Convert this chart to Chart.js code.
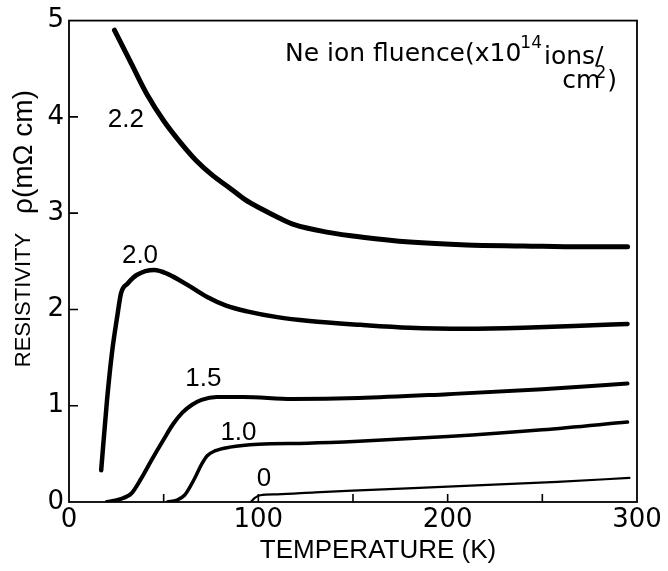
<!DOCTYPE html>
<html>
<head>
<meta charset="utf-8">
<script src="https://cdn.jsdelivr.net/npm/chart.js@4.4.1/dist/chart.umd.min.js"></script>
<style>
  html, body { margin: 0; padding: 0; background: #fff; }
  canvas { display: block; }
</style>
</head>
<body>
<canvas id="chart" width="668" height="571"></canvas>
<script>
// Resistivity vs temperature after Ne ion implantation, one curve per fluence
const fluenceLabels = ['2.2', '2.0', '1.5', '1.0', '0'];

const temp22 = [24, 33, 41, 50, 59, 67, 76, 85, 93, 102, 111, 119, 137, 155, 180, 210, 240, 270, 295];
const rho22  = [4.90, 4.55, 4.24, 3.96, 3.73, 3.55, 3.39, 3.26, 3.14, 3.04, 2.95, 2.88, 2.80, 2.75, 2.70, 2.67, 2.66, 2.65, 2.65];

const temp20 = [17, 20, 22.7, 25.5, 27.5, 31, 36, 45, 52, 63, 73, 83, 94, 110, 127, 154, 180, 210, 240, 270, 295];
const rho20  = [0.33, 1.04, 1.55, 1.93, 2.17, 2.27, 2.36, 2.41, 2.37, 2.25, 2.13, 2.04, 1.98, 1.92, 1.88, 1.84, 1.81, 1.80, 1.81, 1.83, 1.85];

const temp15 = [20, 27, 33, 38, 44, 50, 55, 60, 65, 70, 78, 92, 118, 153, 200, 250, 295];
const rho15  = [0, 0.03, 0.09, 0.24, 0.45, 0.65, 0.81, 0.93, 1.01, 1.06, 1.09, 1.09, 1.07, 1.08, 1.12, 1.17, 1.23];

const temp10 = [52, 57, 61, 64, 67, 70, 73, 77, 85, 100, 126, 153, 200, 250, 295];
const rho10  = [0, 0.02, 0.07, 0.16, 0.27, 0.39, 0.48, 0.53, 0.57, 0.60, 0.61, 0.63, 0.68, 0.75, 0.83];

const temp0 = [96, 98, 101, 110, 130, 153, 200, 258, 296];
const rho0  = [0, 0.04, 0.07, 0.08, 0.10, 0.12, 0.16, 0.21, 0.25];

// where each fluence number sits, in (K, mΩ cm)
const labelTemp = [30, 37.5, 71, 89.5, 103];
const labelRho  = [3.97, 2.56, 1.28, 0.72, 0.245];

const xMinorTicks = [50, 100, 150, 200, 250];
const yInnerTicks = [1, 2, 3, 4];

const FONT = "'Liberation Sans', Arial, sans-serif";
const WIDE = "'DejaVu Sans', sans-serif";

function points(t, r) { return t.map((v, i) => ({ x: v, y: r[i] })); }

const series = [
  { data: points(temp22, rho22), borderWidth: 5 },
  { data: points(temp20, rho20), borderWidth: 4.5 },
  { data: points(temp15, rho15), borderWidth: 4 },
  { data: points(temp10, rho10), borderWidth: 3.5 },
  { data: points(temp0, rho0), borderWidth: 2.2 }
].map((d, i) => Object.assign({
  label: fluenceLabels[i],
  borderColor: '#000',
  backgroundColor: '#000',
  pointRadius: 0,
  fill: false,
  cubicInterpolationMode: 'monotone',
  borderCapStyle: 'round',
  borderJoinStyle: 'round'
}, d));

// frame, inward ticks, titles and annotations
const decorations = {
  id: 'decorations',
  afterDraw(chart) {
    const ctx = chart.ctx;
    const { left, right, top, bottom } = chart.chartArea;
    const xs = chart.scales.x, ys = chart.scales.y;
    ctx.save();
    ctx.strokeStyle = '#000';
    ctx.fillStyle = '#000';
    ctx.lineWidth = 1.8;
    ctx.strokeRect(left, top, right - left, bottom - top);

    ctx.lineWidth = 1.6;
    ctx.beginPath();
    yInnerTicks.forEach(v => {
      const py = ys.getPixelForValue(v);
      ctx.moveTo(left, py); ctx.lineTo(left + 9, py);
    });
    xMinorTicks.forEach(v => {
      const px = xs.getPixelForValue(v);
      ctx.moveTo(px, bottom); ctx.lineTo(px, bottom - 8);
    });
    ctx.stroke();

    // fluence numbers beside the curves
    ctx.font = `26px ${FONT}`;
    ctx.textAlign = 'center';
    ctx.textBaseline = 'middle';
    fluenceLabels.forEach((t, i) => {
      ctx.fillText(t, xs.getPixelForValue(labelTemp[i]), ys.getPixelForValue(labelRho[i]));
    });

    // fluence unit note
    ctx.textAlign = 'left';
    ctx.textBaseline = 'alphabetic';
    ctx.font = `25px ${WIDE}`;
    const line1 = 'Ne ion fluence(x10';
    let x = 285;
    ctx.fillText(line1, x, 61);
    x += ctx.measureText(line1).width;
    ctx.font = `17px ${WIDE}`;
    ctx.fillText('14', x - 1, 48);
    x += ctx.measureText('14').width;
    ctx.font = `25px ${WIDE}`;
    ctx.fillText('ions/', x + 1, 64);
    ctx.textAlign = 'right';
    ctx.fillText(')', 617, 88);
    const wParen = ctx.measureText(')').width;
    ctx.font = `17px ${WIDE}`;
    ctx.fillText('2', 617 - wParen - 1, 78);
    const w2 = ctx.measureText('2').width;
    ctx.font = `25px ${WIDE}`;
    ctx.fillText('cm', 617 - wParen - w2 + 4, 88);

    // axis titles
    ctx.textAlign = 'center';
    ctx.textBaseline = 'middle';
    ctx.font = `26px ${FONT}`;
    ctx.fillText('TEMPERATURE (K)', 378, 551);

    ctx.translate(24, 0);
    ctx.rotate(-Math.PI / 2);
    ctx.font = `22px ${FONT}`;
    ctx.fillText('RESISTIVITY', -300, 0);
    ctx.font = `28px ${FONT}`;
    ctx.fillText('\u03C1(m\u03A9 cm)', -152, 0);
    ctx.restore();
  }
};

new Chart(document.getElementById('chart'), {
  type: 'line',
  data: { datasets: series },
  options: {
    responsive: false,
    animation: false,
    devicePixelRatio: 1,
    layout: { padding: { top: 13, right: 31, left: 0, bottom: 0 } },
    plugins: { legend: { display: false }, tooltip: { enabled: false } },
    scales: {
      x: {
        type: 'linear', min: 0, max: 300,
        grid: { display: false, drawTicks: false },
        border: { display: false },
        ticks: { stepSize: 100, padding: 3, color: '#000', maxRotation: 0, autoSkip: false,
                 font: { family: WIDE, size: 26 } },
        afterFit(s) { s.height = 69; }
      },
      y: {
        type: 'linear', min: 0, max: 5,
        grid: { display: false, drawTicks: false },
        border: { display: false },
        ticks: { stepSize: 1, padding: 5, color: '#000',
                 font: { family: WIDE, size: 26 } },
        afterFit(s) { s.width = 69; }
      }
    }
  },
  plugins: [decorations]
});
</script>
</body>
</html>
